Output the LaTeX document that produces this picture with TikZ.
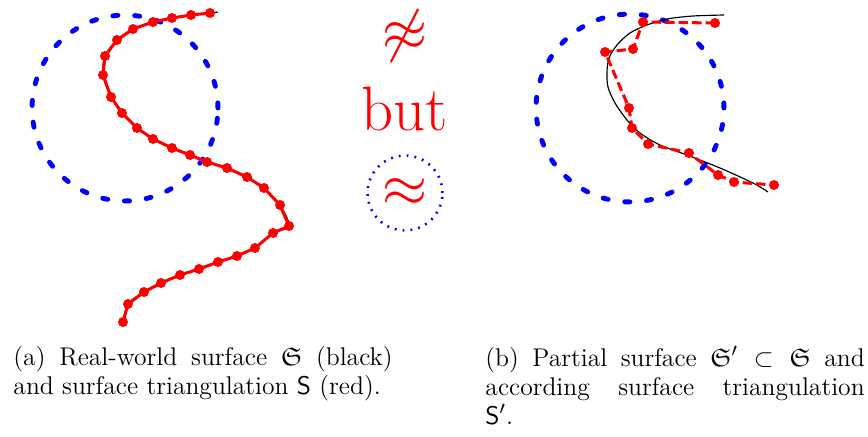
\documentclass[tikz,border=0pt]{standalone}
\usepackage{amsmath, amssymb}
\usepackage{xcolor}
\usepackage{tikz}
\usetikzlibrary{calc}

\begin{document}
\begin{tikzpicture}[
    x=0.0151cm, y=-0.0151cm,
    region/.style={draw=blue, line width=2.1pt, line cap=round, dash pattern=on 2.2pt off 7.2pt},
    surface/.style={black, line width=0.5pt},
    mesh/.style={red, line width=1.3pt},
    meshdash/.style={red, line width=1.3pt, dash pattern=on 4pt off 1.8pt},
    vertex/.style={fill=red},
    sign/.style={red, font=\fontsize{27}{32}\selectfont},
    caption/.style={anchor=north west, inner sep=0pt, align=justify, text width=163pt,
        font=\fontsize{11}{12.5}\selectfont},
]
\useasboundingbox (0,0) rectangle (868,436);

% Left: real-world surface and its triangulation
\draw [region] (125,108) circle [radius=1.404cm];
\draw [surface] plot [smooth] coordinates {(218,12) (210,13) (191,15) (172,18) (153,22) (133,29) (117,40) (105,56) (103,75) (111,97) (122,113) (137,128) (153,139) (172,148) (190,155) (207,162) (227,168) (247,177) (264,188) (280,205) (289,226) (273,233) (255,248) (237,256) (218,262) (199,269) (180,275) (161,283) (144,292) (128,304) (123,322)};
\draw [mesh] plot coordinates {(210,13) (191,15) (172,18) (153,22) (133,29) (117,40) (105,56) (103,75) (111,97) (122,113) (137,128) (153,139) (172,148) (190,155) (207,162) (227,168) (247,177) (264,188) (280,205) (289,226) (273,233) (255,248) (237,256) (218,262) (199,269) (180,275) (161,283) (144,292) (128,304) (123,322)};
\foreach \x/\y in {210/13, 191/15, 172/18, 153/22, 133/29, 117/40, 105/56, 103/75, 111/97, 122/113, 137/128, 153/139, 172/148, 190/155, 207/162, 227/168, 247/177, 264/188, 280/205, 289/226, 273/233, 255/248, 237/256, 218/262, 199/269, 180/275, 161/283, 144/292, 128/304, 123/322}
    \fill [vertex] (\x,\y) circle [radius=2.15pt];

% Middle
\node (notsim) [sign] at (405,36) {$\not\approx$};
\node (but) [sign, anchor=base] at (405,130) {but};
\node (sim) [sign, circle, draw=blue, line width=1.1pt, dash pattern=on 0.8pt off 2.6pt, minimum size=32.2pt, inner sep=0pt] at (405,193) {$\approx$};

% Right: partial surface and its triangulation
\draw [region] (630,108) circle [radius=1.419cm];
\draw [surface] plot [smooth] coordinates {(724,15) (693,16) (667,19) (647,25) (630,33) (617,45) (609,58) (607,72) (608,87) (615,103) (627,120) (640,133) (660,145) (687,155) (720,168) (753,183) (768,192)};
\draw [meshdash] plot coordinates {(715,23) (643,22) (633,49) (605,52) (629,108) (632,128) (648,144) (689,153) (718,175) (734,182) (774,185)};
\foreach \x/\y in {715/23, 643/22, 633/49, 605/52, 629/108, 632/128, 648/144, 689/153, 718/175, 734/182, 774/185}
    \fill [vertex] (\x,\y) circle [radius=2.15pt];

% Captions
\node (capa) [caption] at (13,346) {(a) Real-world surface $\mathfrak{S}$ (black) and surface triangulation $\mathsf{S}$ (red).};
\node (capb) [caption] at (485,346) {(b) Partial surface $\mathfrak{S}'\subset\mathfrak{S}$ and according surface triangulation\linebreak $\mathsf{S}'$.};

\end{tikzpicture}
\end{document}
